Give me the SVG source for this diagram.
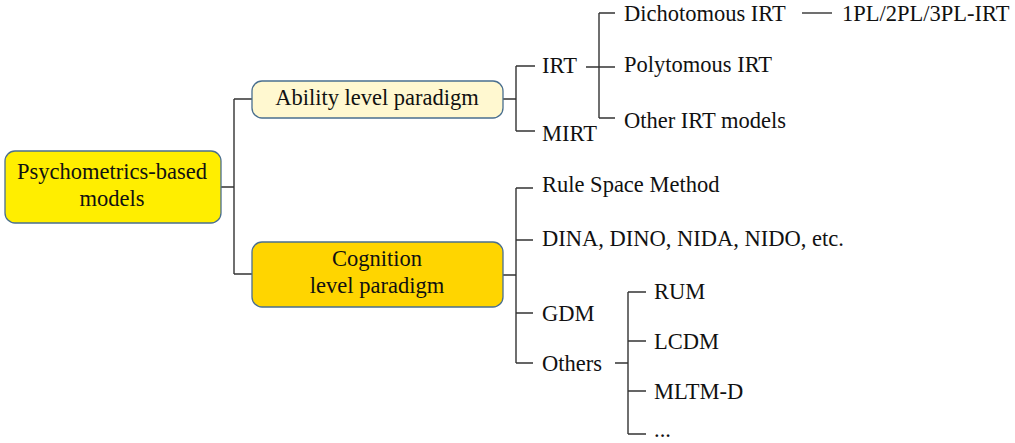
<svg xmlns="http://www.w3.org/2000/svg" width="1015" height="443" viewBox="0 0 1015 443">
<style>
text{font-family:'Liberation Serif','DejaVu Serif','Times New Roman',serif;font-size:22.5px;fill:#111}
.c{text-anchor:middle}
.box{stroke:#4a6f8f;stroke-width:1.3}
#connectors path{fill:none;stroke:#333;stroke-width:1.4}
</style>
<rect width="1015" height="443" fill="#fff"/>
<g id="connectors">
<path d="M221 187H234M234 99V274M234 99H252M234 274H252"/>
<path d="M503 99H516M516 66V131M516 66H535M516 131H535"/>
<path d="M586 67H599M599 13V118M599 13H615M599 67H615M599 118H615"/>
<path d="M802 13H832"/>
<path d="M503 275H516M516 188V363M516 188H533M516 240H533M516 313H533M516 363H533"/>
<path d="M615 363H628M628 292V434M628 292H646M628 341H646M628 391H646M628 434H646"/>
</g>
<g id="root"><rect class="box" x="5" y="151" width="216" height="72" rx="10" fill="#ffee00"/><text class="c" x="112" y="179" font-family="Liberation Serif">Psychometrics-based</text><text class="c" x="112" y="206">models</text></g>
<g id="ability"><rect class="box" x="252" y="81" width="251" height="37" rx="10" fill="#fff8d0"/><text class="c" x="377" y="105">Ability level paradigm</text></g>
<g id="cognition"><rect class="box" x="252" y="242" width="251" height="65" rx="10" fill="#ffd500"/><text class="c" x="377" y="266">Cognition</text><text class="c" x="377" y="293">level paradigm</text></g>
<g id="irt"><text x="542" y="73">IRT</text></g>
<g id="mirt"><text x="542" y="141">MIRT</text></g>
<g id="dichotomous"><text x="624" y="21">Dichotomous IRT</text></g>
<g id="pl"><text x="842" y="21">1PL/2PL/3PL-IRT</text></g>
<g id="polytomous"><text x="624" y="72">Polytomous IRT</text></g>
<g id="otherirt"><text x="624" y="128">Other IRT models</text></g>
<g id="rsm"><text x="542" y="192">Rule Space Method</text></g>
<g id="dina"><text x="542" y="246">DINA, DINO, NIDA, NIDO, etc.</text></g>
<g id="gdm"><text x="542" y="321">GDM</text></g>
<g id="others"><text x="542" y="371">Others</text></g>
<g id="rum"><text x="654" y="299">RUM</text></g>
<g id="lcdm"><text x="654" y="349">LCDM</text></g>
<g id="mltm"><text x="654" y="399">MLTM-D</text></g>
<g id="etc"><text x="654" y="437">...</text></g>
</svg>
